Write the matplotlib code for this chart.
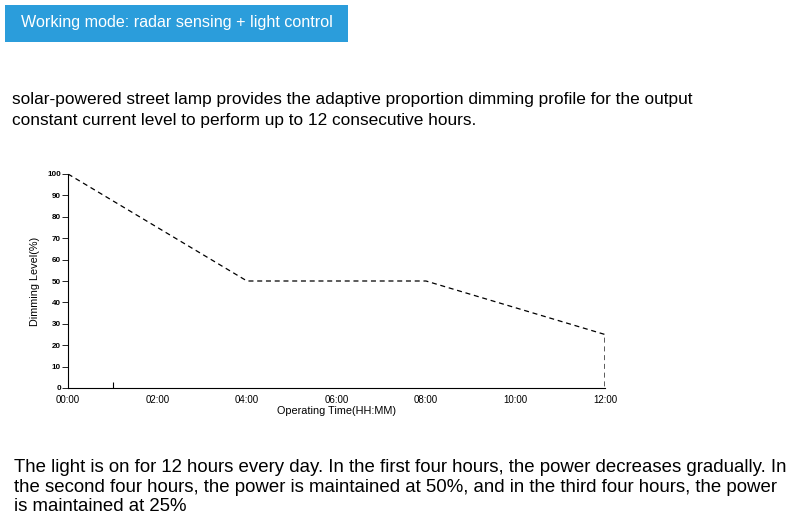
import matplotlib
matplotlib.use('Agg')
import matplotlib.pyplot as plt
from matplotlib.patches import Rectangle

# dimming profile: hours -> level (%)
hours = [0, 4, 8, 12, 12]
level = [100, 50, 50, 25, 0]
x_ticks = [0, 2, 4, 6, 8, 10, 12]
x_labels = ['00:00', '02:00', '04:00', '06:00', '08:00', '10:00', '12:00']
y_ticks = [0, 10, 20, 30, 40, 50, 60, 70, 80, 90, 100]

TITLE = 'Working mode: radar sensing + light control'
INTRO = ('solar-powered street lamp provides the adaptive proportion dimming profile for the output\n'
         'constant current level to perform up to 12 consecutive hours.')
NOTE = ('The light is on for 12 hours every day. In the first four hours, the power decreases gradually. In\n'
        'the second four hours, the power is maintained at 50%, and in the third four hours, the power\n'
        'is maintained at 25%')

plt.rcParams['font.family'] = ['Liberation Sans', 'DejaVu Sans']

fig = plt.figure(figsize=(8, 5.18), dpi=100)

# header box
fig.patches.append(Rectangle((5 / 800, 1 - 42 / 518), 343 / 800, 37 / 518,
                             transform=fig.transFigure, facecolor='#2b9ddb',
                             edgecolor='none'))
fig.text(177 / 800, 1 - 23 / 518, TITLE, color='white', fontsize=11.6,
         ha='center', va='center')

fig.text(12 / 800, 1 - 110 / 518, INTRO, fontsize=12.4, ha='left', va='center',
         linespacing=1.45)

fig.text(14 / 800, 1 - 487 / 518, NOTE, fontsize=13.4, ha='left', va='center',
         linespacing=1.16)

ax = fig.add_axes([68 / 800, 1 - 388 / 518, 537 / 800, 214 / 518])
ax.plot(hours, level, color='black', linestyle=(0, (4, 3)), linewidth=0.9)
ax.set_xlim(0, 12)
ax.set_ylim(0, 100)
ax.spines['top'].set_visible(False)
ax.spines['right'].set_visible(False)
ax.spines['left'].set_linewidth(0.8)
ax.spines['bottom'].set_linewidth(0.8)

ax.set_xticks(x_ticks)
ax.set_xticklabels(x_labels, fontsize=7)
ax.set_xticks([1], minor=True)
ax.tick_params(axis='x', which='major', length=0, pad=5)
ax.tick_params(axis='x', which='minor', direction='in', length=4, width=0.8)
ax.set_yticks(y_ticks)
ax.set_yticklabels([str(v) for v in y_ticks], fontsize=5.8, fontweight='bold')
ax.tick_params(axis='y', direction='out', length=4, width=0.6, pad=1)

ax.set_xlabel('Operating Time(HH:MM)', fontsize=7.8, labelpad=1)
ax.set_ylabel('Dimming Level(%)', fontsize=7.8, labelpad=5)

fig.savefig('out.png', dpi=100)
